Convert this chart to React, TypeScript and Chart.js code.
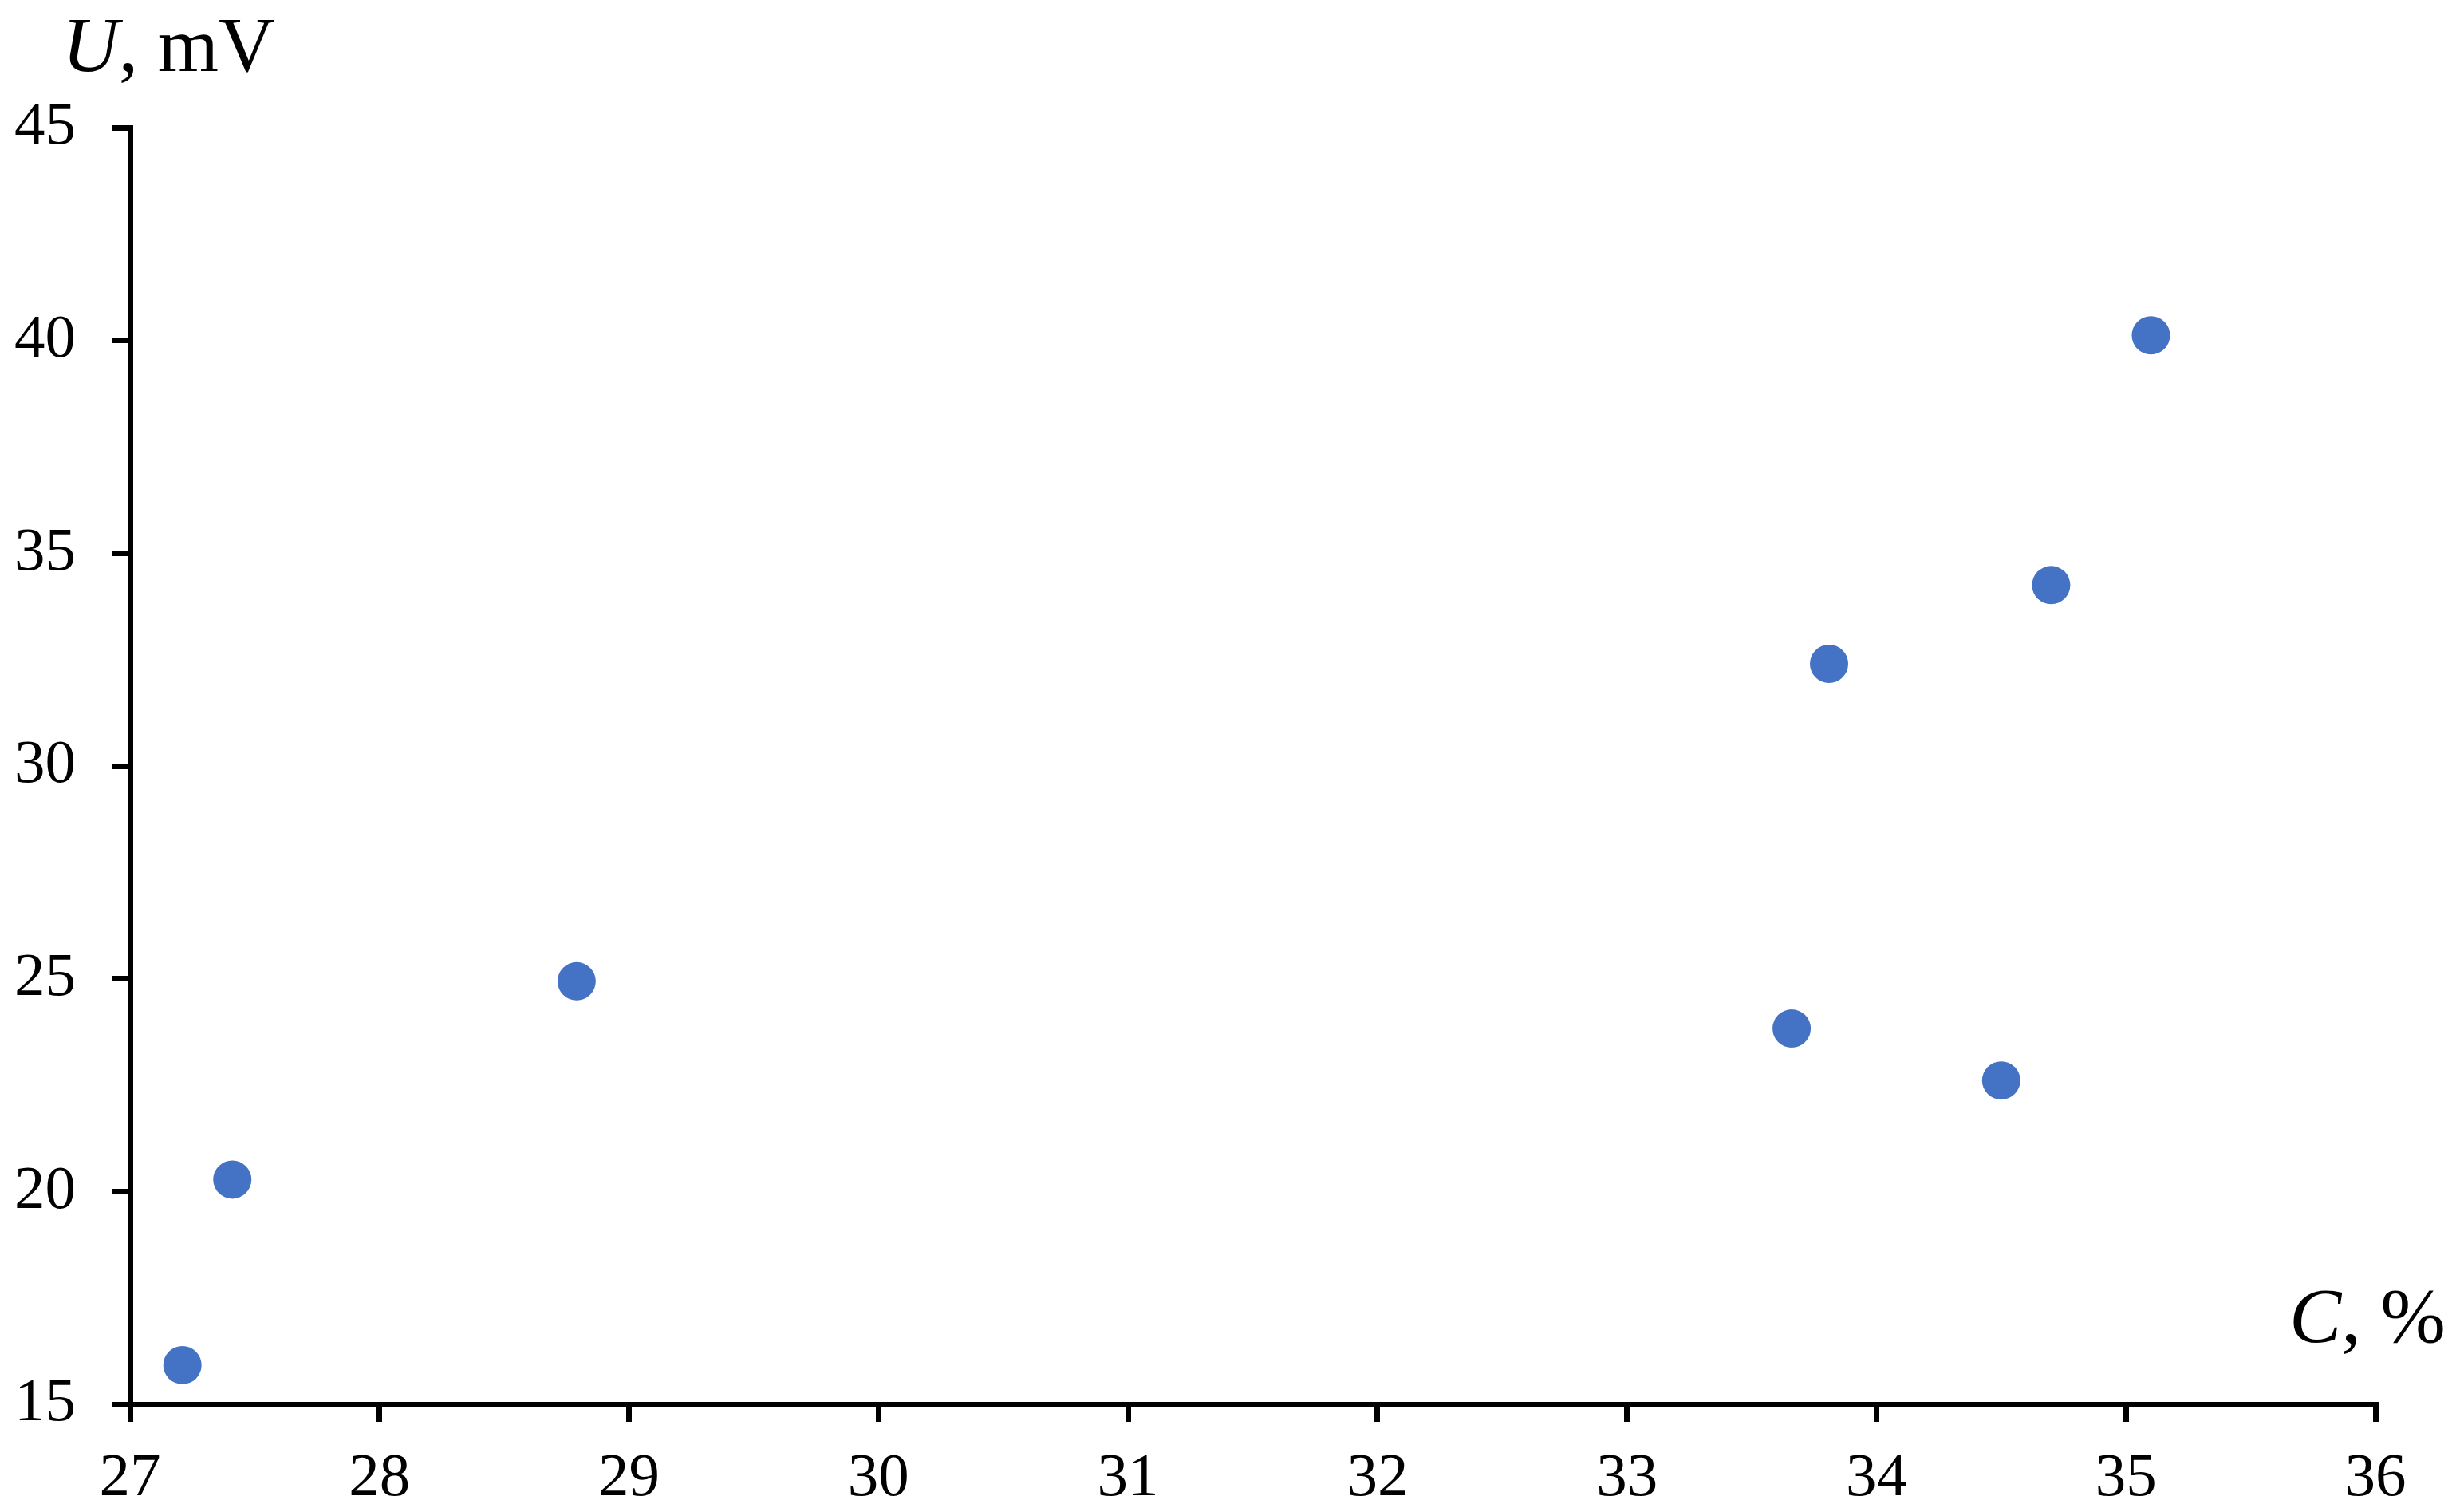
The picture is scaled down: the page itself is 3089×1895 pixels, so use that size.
import React, { useEffect, useRef } from "react";
import { Chart, registerables } from "chart.js";

Chart.register(...registerables);

const cValues = [27.21, 27.41, 28.79, 33.66, 33.81, 34.5, 34.7, 35.1];
const uValues = [15.92, 20.28, 24.94, 23.83, 32.4, 22.61, 34.25, 40.12];
const xTickRange = [27, 36];
const yTickRange = [15, 45];
const xTitleItalic = "C";
const xTitleRest = ", %";
const yTitleItalic = "U";
const yTitleRest = ", mV";

const W = 3089;
const H = 1895;
const FONT = '"Liberation Serif", "Times New Roman", serif';

const titlePlugin = {
  id: "axisTitles",
  afterDraw(chart: any) {
    const { ctx, chartArea } = chart;
    ctx.save();
    ctx.fillStyle = "#000";
    ctx.textBaseline = "alphabetic";
    ctx.textAlign = "left";
    // Y title (top-left)
    let x = 78;
    const yBase = chartArea.top - 71;
    ctx.font = `italic 98px ${FONT}`;
    ctx.fillText(yTitleItalic, x, yBase);
    x += ctx.measureText(yTitleItalic).width;
    ctx.font = `98px ${FONT}`;
    ctx.fillText(yTitleRest, x, yBase);
    // X title (bottom-right)
    const xBase = chartArea.bottom - 78;
    ctx.font = `98px ${FONT}`;
    const restW = ctx.measureText(xTitleRest).width;
    ctx.font = `italic 98px ${FONT}`;
    const itW = ctx.measureText(xTitleItalic).width;
    const right = 3066;
    const start = right - restW - itW;
    ctx.fillText(xTitleItalic, start, xBase);
    ctx.font = `98px ${FONT}`;
    ctx.fillText(xTitleRest, start + itW, xBase);
    ctx.restore();
  },
};

export default function App() {
  const ref = useRef<HTMLCanvasElement | null>(null);
  useEffect(() => {
    document.body.style.margin = "0";
    const canvas = ref.current!;
    const data = cValues.map((c, i) => ({ x: c, y: uValues[i] }));
    const axisCommon = {
      border: { display: true, color: "#000", width: 7 },
      grid: {
        display: true,
        drawOnChartArea: false,
        drawTicks: true,
        tickLength: 22,
        lineWidth: 7,
        color: "#000",
        tickColor: "#000",
      },
    };
    const chart = new Chart(canvas, {
      type: "scatter",
      data: {
        datasets: [
          {
            data,
            backgroundColor: "#4472C4",
            borderWidth: 0,
            pointRadius: 24,
            pointHoverRadius: 24,
          },
        ],
      },
      options: {
        animation: false,
        responsive: false,
        devicePixelRatio: 1,
        layout: { padding: { top: 160, right: 111, left: 0, bottom: 0 } },
        plugins: {
          legend: { display: false },
          tooltip: { enabled: false },
          title: { display: false },
        },
        scales: {
          x: {
            type: "linear",
            min: xTickRange[0],
            max: xTickRange[1],
            ...axisCommon,
            ticks: {
              stepSize: 1,
              color: "#000",
              padding: 26,
              maxRotation: 0,
              font: { family: FONT, size: 77 },
            },
            afterFit(scale: any) {
              scale.height = 135;
            },
          },
          y: {
            type: "linear",
            min: yTickRange[0],
            max: yTickRange[1],
            ...axisCommon,
            ticks: {
              stepSize: 5,
              color: "#000",
              padding: 46,
              font: { family: FONT, size: 77 },
            },
            afterFit(scale: any) {
              scale.width = 163;
            },
          },
        },
      } as any,
      plugins: [titlePlugin],
    });
    return () => chart.destroy();
  }, []);
  return (
    <canvas
      ref={ref}
      width={W}
      height={H}
      style={{ display: "block", position: "fixed", left: 0, top: 0, width: W, height: H, background: "#fff" }}
    />
  );
}
